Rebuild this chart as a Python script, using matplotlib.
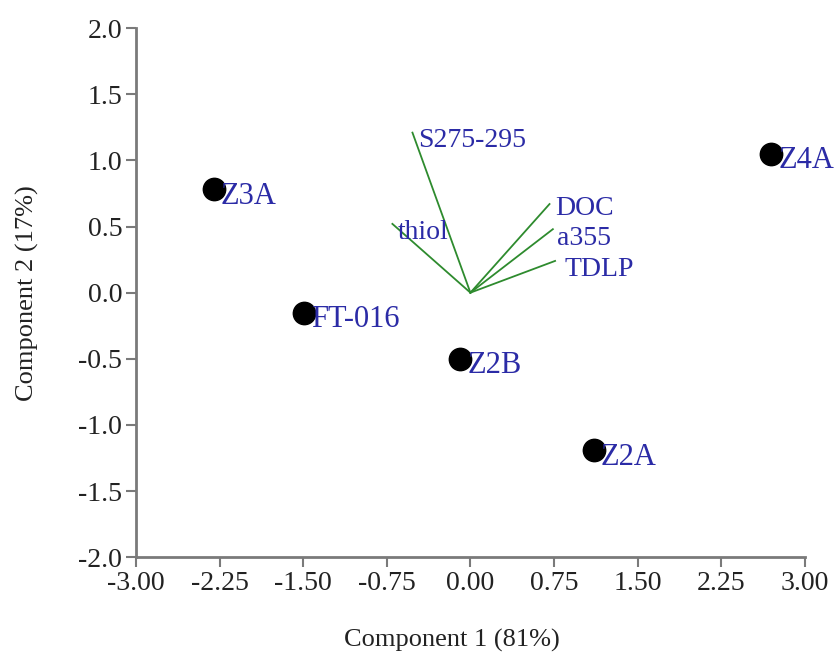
import matplotlib
matplotlib.use("Agg")
import matplotlib.pyplot as plt

# 시료 점수 (PCA scores)
samples = ["Z3A", "FT-016", "Z2B", "Z2A", "Z4A"]
pc1 = [-2.30, -1.49, -0.09, 1.11, 2.70]
pc2 = [0.78, -0.15, -0.50, -1.19, 1.05]

# 변수 로딩 벡터
variables = ["S275-295", "thiol", "DOC", "a355", "TDLP"]
load1 = [-0.52, -0.70, 0.71, 0.74, 0.76]
load2 = [1.21, 0.52, 0.67, 0.48, 0.24]

xticks = [-3.00, -2.25, -1.50, -0.75, 0.00, 0.75, 1.50, 2.25, 3.00]
yticks = [-2.0, -1.5, -1.0, -0.5, 0.0, 0.5, 1.0, 1.5, 2.0]

plt.rcParams["font.family"] = ["Liberation Serif", "DejaVu Serif"]
LBL = "#2b2ba6"
GRN = "#2e8b2e"
AX = "#7a7a7a"
TXT = "#222222"
# 라벨 오프셋 (pt) — 겹침 방지
VOFF = {"DOC": (4, -3), "a355": (3, -7), "TDLP": (7, -6)}

fig = plt.figure(figsize=(8.4, 6.54), dpi=100)
ax = fig.add_axes([0.162, 0.148, 0.796, 0.809])

for x, y in zip(load1, load2):
    ax.plot([0, x], [0, y], color=GRN, lw=1.3, zorder=2)
for name, x, y in zip(variables, load1, load2):
    ax.annotate(name, (x, y), xytext=VOFF.get(name, (4, -6)), textcoords="offset points",
                ha="left", va="center", color=LBL, fontsize=20, zorder=3,
                annotation_clip=False)

ax.scatter(pc1, pc2, s=260, color="black", zorder=4)
for name, x, y in zip(samples, pc1, pc2):
    ax.annotate(name, (x, y), xytext=(5, -5), textcoords="offset points",
                ha="left", va="center", color=LBL, fontsize=22, zorder=5,
                annotation_clip=False)

ax.set_xlim(-3, 3); ax.set_ylim(-2, 2)
ax.set_xticks(xticks); ax.set_xticklabels([f"{v:.2f}" for v in xticks])
ax.set_yticks(yticks); ax.set_yticklabels([f"{v:.1f}" for v in yticks])
for s in ("top", "right"):
    ax.spines[s].set_visible(False)
for s in ("left", "bottom"):
    ax.spines[s].set_color(AX); ax.spines[s].set_linewidth(2)
ax.tick_params(direction="out", length=7, width=1.5, color=AX,
               labelsize=20, labelcolor=TXT, pad=3)
ax.set_xlabel("Component 1 (81%)", fontsize=19, color=TXT)
ax.set_ylabel("Component 2 (17%)", fontsize=19, color=TXT)
ax.xaxis.set_label_coords(0.472, -0.135)
ax.yaxis.set_label_coords(-0.145, 0.5)

fig.savefig("out.png", dpi=100)
plt.close(fig)
